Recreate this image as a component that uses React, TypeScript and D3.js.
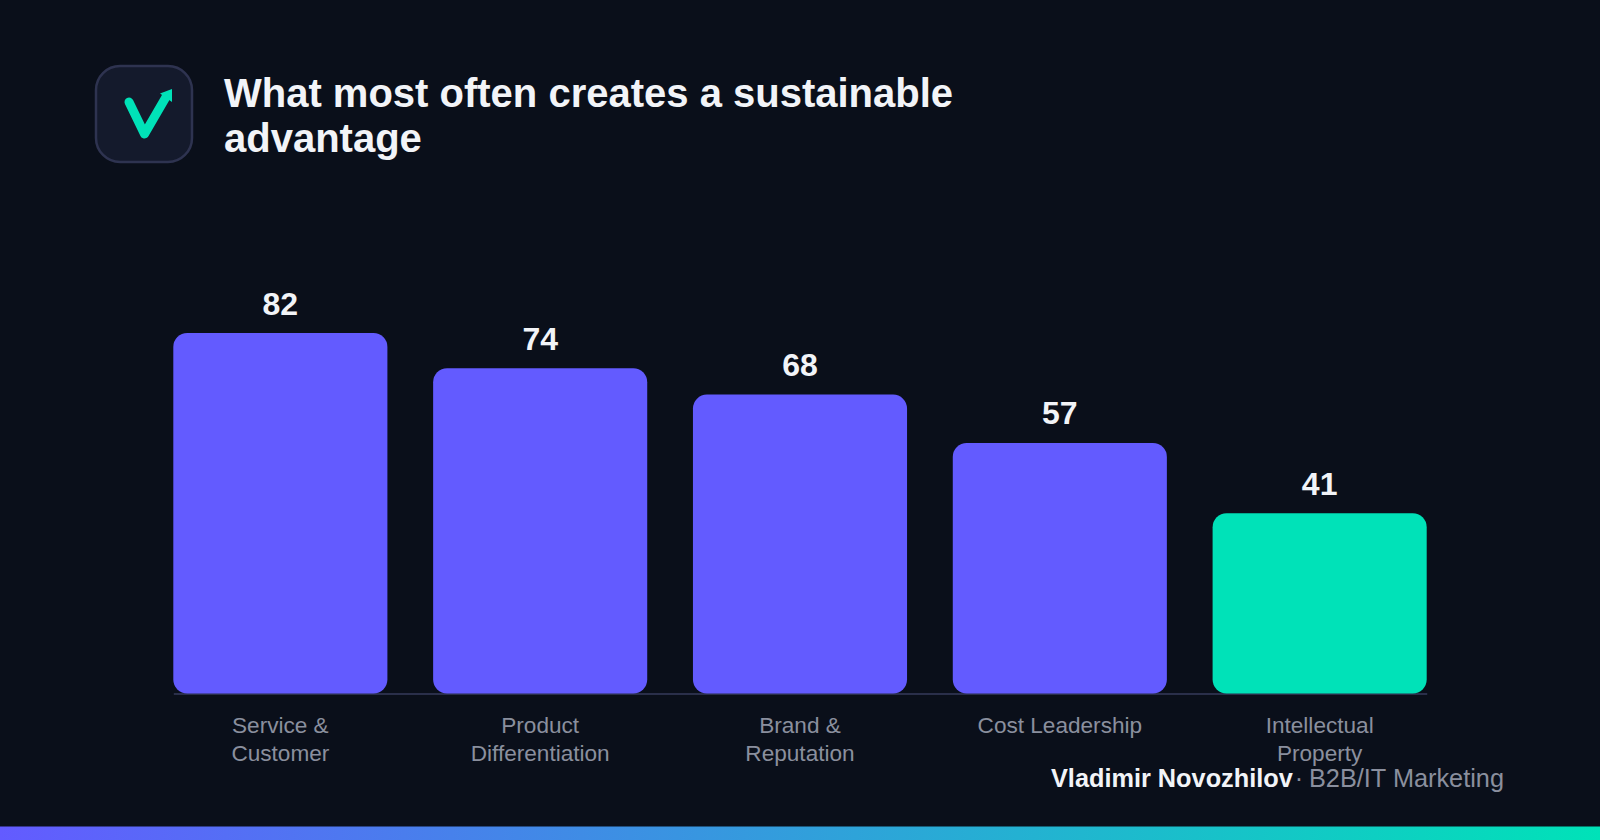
import * as d3 from "d3";
import { useEffect, useRef } from "react";

const categories = ["Service & Customer", "Product Differentiation", "Brand & Reputation", "Cost Leadership", "Intellectual Property"];
const values = [82, 74, 68, 57, 41];
const categoryLines: Record<string, string[]> = {
  "Service & Customer": ["Service &", "Customer"],
  "Product Differentiation": ["Product", "Differentiation"],
  "Brand & Reputation": ["Brand &", "Reputation"],
  "Cost Leadership": ["Cost Leadership"],
  "Intellectual Property": ["Intellectual", "Property"],
};
const titleLines = ["What most often creates a sustainable", "advantage"];
const highlighted = "Intellectual Property";

const width = 1600;
const height = 840;
const purple = "#635BFF";
const green = "#00E2B8";
const sans = "'Liberation Sans', Arial, sans-serif";

export default function App() {
  const svgRef = useRef<SVGSVGElement | null>(null);

  useEffect(() => {
    if (!svgRef.current) return;

    const svg = d3.select(svgRef.current);
    svg.selectAll("*").remove();

    svg.append("rect").attr("width", width).attr("height", height).attr("fill", "#0A0F1A");

    // bottom stripe
    const grad = svg.append("defs").append("linearGradient").attr("id", "stripe");
    grad.append("stop").attr("offset", "0%").attr("stop-color", purple);
    grad.append("stop").attr("offset", "100%").attr("stop-color", green);
    svg.append("rect").attr("x", 0).attr("y", 826.5).attr("width", width).attr("height", 13.5).attr("fill", "url(#stripe)");

    // logo
    const logo = svg.append("g");
    logo.append("rect")
      .attr("x", 96).attr("y", 66).attr("width", 96).attr("height", 96).attr("rx", 24)
      .attr("fill", "#141A2C").attr("stroke", "#2E3350").attr("stroke-width", 2.5);
    logo.append("path")
      .attr("d", "M129 102 L144.5 134 L166 97")
      .attr("fill", "none").attr("stroke", green).attr("stroke-width", 9)
      .attr("stroke-linecap", "round").attr("stroke-linejoin", "round");
    logo.append("path").attr("d", "M160 93.5 L172 89 L172 102 Z").attr("fill", green);

    // title
    const title = svg.append("text")
      .attr("font-family", sans).attr("font-size", 40).attr("font-weight", 700)
      .attr("fill", "#F2F4F8");
    titleLines.forEach((line, i) => {
      title.append("tspan").attr("x", 224).attr("y", 107 + i * 45).text(line);
    });

    // scales
    const baseline = 693.5;
    const x = d3.scaleBand<string>().domain(categories).range([173.3, 1426.7]).paddingInner(0.176).paddingOuter(0);
    const y = d3.scaleLinear().domain([0, 82]).range([baseline, 333]);

    // axis
    const axis = svg.append("g")
      .attr("transform", `translate(0,${baseline})`)
      .call(d3.axisBottom(x).tickSize(0).tickFormat(() => ""));
    axis.select(".domain").attr("stroke", "#2A2F4A").attr("stroke-width", 2);
    axis.selectAll<SVGTextElement, string>(".tick text")
      .attr("y", 0).attr("dy", null)
      .attr("font-family", sans).attr("font-size", 22.6).attr("fill", "#8A8F9E")
      .each(function (d) {
        categoryLines[d].forEach((line, i) => {
          d3.select(this).append("tspan").attr("x", 0).attr("y", 39.5 + i * 28).text(line);
        });
      });

    // bars
    svg.selectAll("rect.bar")
      .data(values)
      .enter()
      .append("rect")
      .attr("class", "bar")
      .attr("x", (_, i) => x(categories[i])!)
      .attr("y", d => y(d))
      .attr("width", x.bandwidth())
      .attr("height", d => baseline - y(d))
      .attr("rx", 14)
      .attr("fill", (_, i) => (categories[i] === highlighted ? green : purple));

    // value labels
    svg.selectAll("text.value")
      .data(values)
      .enter()
      .append("text")
      .attr("class", "value")
      .attr("x", (_, i) => x(categories[i])! + x.bandwidth() / 2)
      .attr("y", d => y(d) - 18.5)
      .attr("text-anchor", "middle")
      .attr("font-family", sans).attr("font-size", 32).attr("font-weight", 700)
      .attr("fill", "#F2F4F8")
      .text(d => d);

    // credit
    const credit = svg.append("text").attr("y", 787).attr("font-family", sans).attr("font-size", 25.3);
    credit.append("tspan").attr("x", 1051).attr("font-weight", 700).attr("fill", "#F2F4F8").text("Vladimir Novozhilov");
    credit.append("tspan").attr("dx", 2).attr("fill", "#8A8F9E").text("·");
    credit.append("tspan").attr("x", 1309).attr("fill", "#8A8F9E").text("B2B/IT Marketing");
  }, []);

  return (
    <svg
      ref={svgRef}
      width={width}
      height={height}
      style={{ position: "absolute", left: 0, top: 0, display: "block" }}
    />
  );
}
